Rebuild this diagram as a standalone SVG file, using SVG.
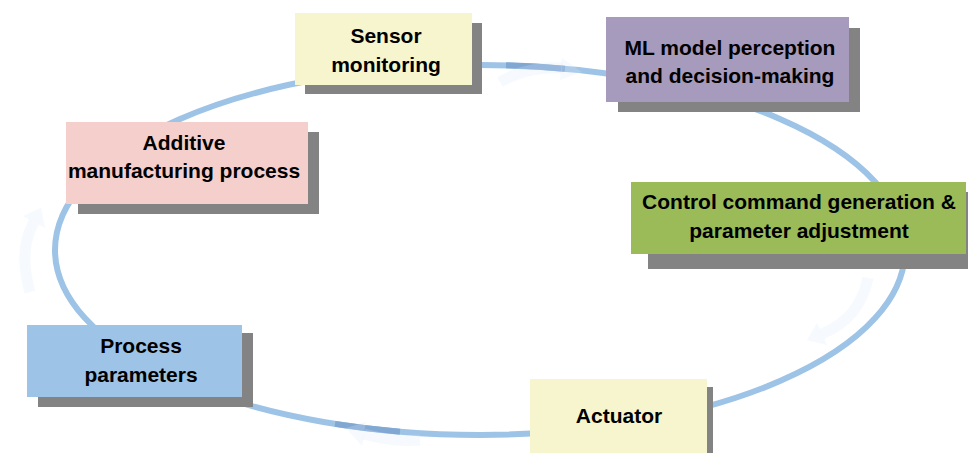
<svg xmlns="http://www.w3.org/2000/svg" width="968" height="453" viewBox="0 0 968 453">
  <style>
    .label { font-family: "Liberation Sans", Arial, sans-serif; font-weight: bold; font-size: 21px; fill: #000; text-anchor: middle; }
    .shadow { fill: #838383; }
    .cycle { fill: none; stroke: #9dc3e6; stroke-width: 6; }
    .flow { fill: #dce9f6; opacity: 0.25; }
    .flow-line { fill: none; stroke: #dce9f6; stroke-width: 11; opacity: 0.25; }
    .overlap { fill: none; stroke: #80a8d3; stroke-width: 6; }
  </style>

  <rect width="968" height="453" fill="#ffffff"/>

  <!-- closed loop and faint direction arrows -->
  <g id="connectors">
    <ellipse class="cycle" cx="480" cy="250" rx="425" ry="185"/>
    <path class="overlap" d="M 506 65.3 A 425 185 0 0 1 565 68.7"/>
    <path class="overlap" d="M 400 431.7 A 425 185 0 0 1 335 423.9"/>
    <!-- left: upward -->
    <path class="flow-line" d="M 30 292 Q 18 250 34 222"/>
    <polygon class="flow" points="41,208 23,216 45,228"/>
    <!-- right: downward -->
    <path class="flow-line" d="M 868 278 Q 860 318 822 334"/>
    <polygon class="flow" points="807,340 827,345 817,323"/>
    <!-- bottom: leftward -->
    <path class="flow-line" d="M 420 440 Q 392 442 364 434"/>
    <polygon class="flow" points="346,428 366,422 362,446"/>
    <!-- top: rightward -->
    <path class="flow-line" d="M 500 82 Q 528 66 562 68"/>
    <polygon class="flow" points="582,72 562,58 560,80"/>
  </g>

  <g id="sensor-monitoring">
    <rect class="shadow" x="305" y="23" width="177" height="71"/>
    <rect x="295" y="13" width="177" height="72" fill="#f6f5cd"/>
    <text class="label" x="386" y="43">Sensor</text>
    <text class="label" x="386" y="72">monitoring</text>
  </g>

  <g id="ml-model">
    <rect class="shadow" x="618" y="28" width="242" height="84"/>
    <rect x="606" y="17" width="243" height="85" fill="#a69abd"/>
    <text class="label" x="730" y="55">ML model perception</text>
    <text class="label" x="730" y="83">and decision-making</text>
  </g>

  <g id="control-command">
    <rect class="shadow" x="648" y="192" width="320" height="77"/>
    <rect x="631" y="182" width="335" height="72" fill="#9bbb59"/>
    <text class="label" x="799" y="209">Control command generation &amp;</text>
    <text class="label" x="799" y="238">parameter adjustment</text>
  </g>

  <g id="actuator">
    <rect class="shadow" x="540" y="387" width="173" height="70"/>
    <rect x="530" y="379" width="177" height="80" fill="#f6f5cd"/>
    <text class="label" x="619" y="423">Actuator</text>
  </g>

  <g id="process-parameters">
    <rect class="shadow" x="38" y="333" width="215" height="74"/>
    <rect x="27" y="325" width="215" height="72" fill="#9dc3e6"/>
    <text class="label" x="141" y="353">Process</text>
    <text class="label" x="141" y="382">parameters</text>
  </g>

  <g id="additive-manufacturing">
    <rect class="shadow" x="78" y="132" width="241" height="82"/>
    <rect x="66" y="122" width="242" height="82" fill="#f5cfcb"/>
    <text class="label" x="184" y="150">Additive</text>
    <text class="label" x="184" y="178">manufacturing process</text>
  </g>
</svg>
